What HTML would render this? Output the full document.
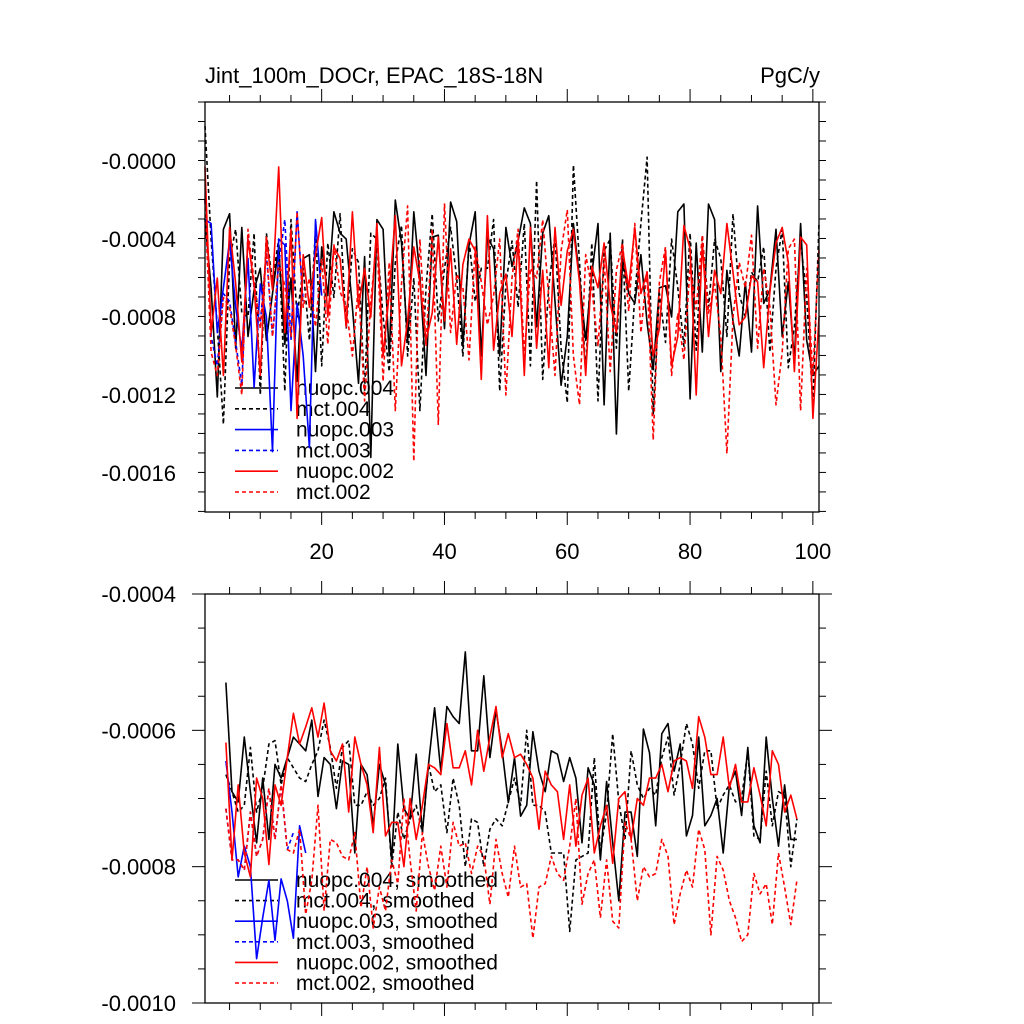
<!DOCTYPE html>
<html><head><meta charset="utf-8"><style>
html,body{margin:0;padding:0;background:#fff;}
svg{display:block;font-family:"Liberation Sans",Arial,sans-serif;}
</style></head><body>
<svg id="chart" width="1024" height="1024" viewBox="0 0 1024 1024" xmlns="http://www.w3.org/2000/svg">
<rect width="1024" height="1024" fill="#fff"/>
<text x="205" y="83" font-size="22">Jint_100m_DOCr, EPAC_18S-18N</text>
<text x="820" y="83" font-size="22" text-anchor="end">PgC/y</text>
<g id="top"></g><g id="bot"></g>
</svg>
<script>
// ---- data (units 1e-4 PgC/y) ----
const xTicks = [20, 40, 60, 80, 100];
const topYTicks = [0, -4, -8, -12, -16];
const topYLabels = ["-0.0000", "-0.0004", "-0.0008", "-0.0012", "-0.0016"];
const botYTicks = [-4, -6, -8, -10];
const botYLabels = ["-0.0004", "-0.0006", "-0.0008", "-0.0010"];

const nuopc004 = [-3.0,-6.5,-12.1,-3.5,-2.7,-9.6,-3.4,-9.0,-6.6,-5.5,-9.2,-6.8,-4.4,-9.4,-6.0,-11.3,-5.0,-4.8,-10.8,-4.4,-6.9,-2.6,-3.7,-4.0,-7.5,-11.4,-4.9,-15.2,-3.0,-3.5,-10.0,-2.0,-4.2,-9.3,-2.6,-5.9,-11.0,-3.9,-3.8,-8.6,-2.1,-3.1,-9.5,-4.3,-2.6,-10.0,-3.9,-4.5,-10.0,-3.4,-5.4,-4.1,-2.4,-3.2,-8.5,-3.7,-2.8,-7.2,-11.5,-9.0,-3.2,-6.0,-9.2,-5.8,-3.2,-12.5,-3.7,-14.0,-5.0,-6.8,-7.3,-4.8,-8.3,-10.7,-6.5,-6.4,-8.0,-2.6,-2.2,-12.2,-4.2,-9.8,-2.2,-3.0,-10.8,-5.6,-8.2,-10.0,-6.2,-9.8,-2.3,-7.3,-6.6,-3.5,-9.0,-6.2,-10.2,-3.2,-9.2,-11.0,-10.5];
const mct004 = [1.8,-4.0,-8.5,-13.5,-5.0,-3.5,-7.8,-8.0,-3.7,-12.0,-3.7,-6.2,-4.0,-11.8,-3.0,-8.0,-5.5,-9.2,-3.5,-10.5,-4.2,-7.0,-2.7,-8.6,-4.5,-5.2,-11.8,-3.7,-4.0,-8.0,-10.8,-5.2,-3.3,-10.0,-6.0,-12.8,-6.5,-2.7,-8.2,-5.5,-3.4,-6.0,-10.0,-4.0,-7.2,-5.5,-5.5,-3.0,-11.8,-6.3,-4.1,-7.5,-3.2,-10.5,-1.0,-11.2,-6.4,-3.8,-9.6,-12.4,-0.2,-5.2,-10.8,-4.2,-12.3,-4.6,-4.0,-9.6,-4.0,-11.8,-6.9,-3.2,0.2,-13.0,-6.8,-9.3,-4.0,-6.5,-9.5,-3.7,-9.7,-3.8,-7.5,-4.0,-5.0,-9.0,-2.7,-6.8,-8.0,-5.7,-6.2,-4.4,-9.8,-5.5,-3.5,-10.6,-8.5,-4.1,-7.0,-12.5,-3.2];
const nuopc003 = [-3.0,-3.2,-8.8,-6.5,-4.1,-7.5,-9.7,-5.0,-11.6,-6.3,-8.0,-14.9,-4.0,-4.3,-12.8,-7.3,-10.0,-14.7,-3.0,-6.9];
const mct003 = [-2.0,-9.0,-10.5,-6.8,-7.2,-9.3,-11.5,-3.8,-6.5,-8.3,-4.7,-9.0,-5.3,-3.0,-9.2,-2.6,-7.2];
const nuopc002 = [-0.3,-8.8,-6.0,-11.0,-3.4,-6.3,-10.3,-4.0,-6.4,-11.0,-3.9,-6.6,-0.3,-8.8,-3.5,-13.2,-4.8,-7.5,-4.8,-2.9,-8.0,-4.4,-5.0,-8.5,-2.6,-7.5,-5.5,-8.0,-3.2,-10.0,-6.8,-2.8,-10.5,-8.2,-4.4,-6.2,-9.2,-7.8,-3.9,-8.2,-4.5,-9.4,-5.3,-4.0,-4.6,-11.2,-2.8,-9.7,-6.8,-5.8,-9.0,-4.0,-11.0,-3.4,-9.6,-5.6,-10.6,-3.4,-7.4,-4.6,-3.5,-6.2,-11.0,-5.4,-6.5,-4.2,-7.3,-8.8,-4.5,-6.5,-3.4,-6.8,-5.7,-10.0,-8.6,-4.6,-10.5,-9.0,-3.3,-4.5,-12.0,-4.2,-9.0,-5.6,-6.8,-3.2,-5.7,-8.4,-8.0,-5.9,-6.2,-10.6,-6.7,-4.2,-3.4,-5.2,-10.8,-3.9,-4.3,-13.2,-8.0];
const mct002 = [-2.0,-9.8,-11.0,-7.0,-7.5,-9.5,-12.0,-3.5,-6.2,-8.6,-4.5,-9.0,-5.2,-6.4,-9.0,-2.6,-7.5,-6.0,-8.5,-5.0,-9.4,-4.3,-6.7,-7.5,-10.0,-6.3,-12.3,-7.2,-4.0,-11.3,-5.2,-12.8,-6.3,-2.3,-15.4,-4.0,-9.5,-3.5,-13.5,-2.2,-8.8,-5.8,-6.5,-10.2,-4.4,-6.2,-8.4,-6.9,-4.0,-12.0,-6.0,-3.5,-10.0,-5.5,-6.0,-3.0,-7.0,-11.0,-4.6,-2.5,-10.0,-12.5,-4.8,-6.5,-9.5,-5.0,-10.8,-5.6,-4.2,-7.7,-3.2,-8.8,-5.6,-14.3,-6.2,-4.4,-11.0,-7.8,-10.2,-5.4,-7.6,-3.8,-7.8,-6.3,-9.0,-15.0,-8.0,-5.2,-6.5,-3.8,-9.6,-5.5,-7.5,-12.5,-9.8,-4.5,-4.0,-12.8,-5.5,-11.0,-4.5];

const smoothStart = 4.4;
const sNuopc004 = [-5.3,-6.9,-7.05,-6.1,-6.9,-7.65,-6.7,-7.6,-6.5,-6.7,-6.4,-6.1,-6.2,-6.3,-5.85,-6.97,-6.4,-6.5,-7.15,-6.45,-6.5,-7.8,-6.5,-6.65,-7.4,-6.5,-6.8,-7.9,-6.2,-7.15,-7.3,-6.35,-7.5,-6.5,-5.67,-6.6,-5.65,-5.8,-5.9,-4.85,-6.3,-6.3,-5.2,-6.4,-5.7,-6.3,-7.06,-6.4,-7.26,-7.1,-6.02,-6.6,-6.9,-6.3,-6.35,-6.75,-6.4,-6.7,-7.65,-6.55,-6.8,-7.9,-6.75,-7.65,-8.5,-7.2,-7.2,-7.85,-5.98,-6.33,-7.4,-6.05,-5.9,-6.6,-6.2,-7.55,-7.25,-6.1,-7.4,-7.25,-7.0,-7.8,-6.8,-6.6,-7.25,-6.25,-7.4,-7.65,-6.1,-7.0,-7.7,-6.8,-7.6,-7.6];
const sMct004 = [-6.65,-6.9,-7.2,-7.1,-6.25,-7.2,-6.85,-6.2,-6.15,-6.8,-6.4,-6.55,-6.7,-6.75,-6.5,-6.3,-5.85,-6.25,-6.85,-6.25,-6.15,-7.1,-7.1,-6.9,-7.1,-7.0,-6.7,-8.0,-7.2,-7.6,-7.3,-7.1,-7.5,-6.5,-6.9,-6.8,-7.5,-6.7,-7.1,-8.0,-7.3,-7.35,-8.0,-7.45,-7.3,-7.4,-7.05,-6.7,-7.1,-6.0,-7.1,-7.1,-7.2,-7.8,-7.8,-7.8,-8.95,-7.9,-7.85,-7.8,-6.4,-7.8,-7.2,-6.05,-7.05,-7.6,-6.3,-6.8,-7.0,-6.85,-6.95,-6.4,-6.1,-6.95,-6.5,-5.9,-6.2,-6.85,-6.3,-6.3,-7.15,-6.95,-6.8,-7.05,-7.0,-6.3,-7.55,-7.6,-6.6,-7.4,-6.9,-6.95,-8.0,-7.3];
const sNuopc003 = [-6.45,-7.2,-8.15,-7.7,-8.0,-9.35,-8.75,-8.2,-9.08,-8.18,-8.5,-9.05,-7.4,-7.8];
const sMct003 = [-7.15,-7.9,-7.9,-8.05,-7.2,-7.85,-7.6,-6.85,-7.6,-6.8,-7.75,-7.5];
const sNuopc002 = [-6.18,-7.9,-6.8,-7.8,-8.15,-6.7,-7.0,-7.97,-6.8,-7.1,-6.4,-5.75,-6.2,-5.95,-5.67,-6.1,-5.6,-6.3,-6.45,-6.2,-7.2,-6.1,-6.5,-6.8,-7.5,-6.25,-7.55,-7.35,-7.35,-8.0,-7.0,-7.6,-7.1,-6.5,-6.55,-6.65,-5.9,-6.55,-6.55,-6.3,-6.8,-6.0,-6.6,-6.1,-5.65,-6.4,-6.05,-6.4,-6.35,-6.5,-6.7,-7.45,-6.6,-6.8,-6.9,-7.6,-6.8,-7.7,-6.95,-6.7,-7.8,-7.4,-7.1,-7.95,-7.0,-6.9,-7.6,-7.0,-7.1,-6.7,-6.7,-6.5,-6.9,-6.45,-6.4,-6.45,-6.85,-5.8,-6.1,-6.65,-6.65,-6.1,-6.85,-6.5,-7.05,-7.05,-6.55,-6.95,-7.4,-6.3,-6.5,-7.2,-6.95,-7.3];
const sMct002 = [-7.15,-7.9,-7.9,-8.05,-7.2,-7.85,-7.6,-6.85,-7.6,-6.8,-7.75,-7.8,-7.45,-8.7,-8.2,-7.1,-8.65,-7.6,-7.65,-7.85,-7.9,-7.5,-8.6,-8.0,-8.9,-8.3,-8.65,-7.9,-8.25,-7.0,-7.9,-8.65,-7.5,-8.0,-8.35,-7.7,-8.3,-7.35,-7.7,-7.65,-8.1,-7.7,-7.85,-8.55,-7.6,-8.1,-8.45,-7.7,-8.3,-8.25,-9.05,-8.3,-8.25,-7.85,-8.1,-8.2,-7.7,-7.0,-8.55,-8.1,-7.9,-8.75,-7.9,-8.8,-8.9,-7.35,-7.6,-8.5,-8.0,-8.15,-8.1,-7.6,-7.85,-8.85,-8.4,-8.05,-8.3,-7.45,-7.75,-9.0,-7.85,-8.05,-8.5,-8.75,-9.1,-9.0,-8.1,-8.4,-8.25,-8.85,-7.8,-8.3,-8.85,-8.2];

const topNames = ["nuopc.004","mct.004","nuopc.003","mct.003","nuopc.002","mct.002"];
const botNames = ["nuopc.004, smoothed","mct.004, smoothed","nuopc.003, smoothed","mct.003, smoothed","nuopc.002, smoothed","mct.002, smoothed"];

// ---- drawing ----
const NS = "http://www.w3.org/2000/svg";
function mk(parent, tag, attrs) {
  const e = document.createElementNS(NS, tag);
  for (const k in attrs) e.setAttribute(k, attrs[k]);
  parent.appendChild(e);
  return e;
}
const X0 = 205, X1 = 819;
const xScale = v => X0 + (v - 1) * (X1 - X0) / 100;
const STYLES = [
  {c:"#000", d:null}, {c:"#000", d:"4 3"}, {c:"#0000ff", d:null},
  {c:"#0000ff", d:"4 3"}, {c:"#ff0000", d:null}, {c:"#ff0000", d:"4 3"}
];

function panel(g, top, bottom, yMax, yMin, minorStep, yTicks, yLabels, showX, series, starts, names, legY0, legDy, keys) {
  const ys = v => top + (yMax - v) * (bottom - top) / (yMax - yMin);
  names.forEach((n, i) => {
    const ly = legY0 + i * legDy;
    const l = mk(g, "line", {x1:235, x2:278, y1:ly, y2:ly, stroke:STYLES[i].c, "stroke-width":1.6});
    if (STYLES[i].d) l.setAttribute("stroke-dasharray", STYLES[i].d);
    
    
    const t = mk(g, "text", {x:296, y:ly + 7, "font-size":21, fill:"#000"});
    t.textContent = n;
    
    
  });
  series.forEach((arr, i) => {
    const pts = arr.map((v, k) => xScale(starts[i] + k).toFixed(1) + "," + ys(v).toFixed(1)).join(" ");
    const p = mk(g, "polyline", {points:pts, fill:"none", stroke:STYLES[i].c, "stroke-width":1.6, "stroke-linejoin":"round"});
    if (STYLES[i].d) p.setAttribute("stroke-dasharray", STYLES[i].d);
    
    
  });
  const fr = mk(g, "rect", {x:X0, y:top, width:X1 - X0, height:bottom - top, fill:"none", stroke:"#000", "stroke-width":1.3});
  
  
  for (let v = 5; v <= 100; v += 5) {
    const x = xScale(v), len = (v % 20 === 0) ? 13 : 7;
    mk(g, "line", {x1:x, x2:x, y1:top, y2:top - len, stroke:"#000", "stroke-width":1});
    mk(g, "line", {x1:x, x2:x, y1:bottom, y2:bottom + len, stroke:"#000", "stroke-width":1});
  }
  if (showX) {
    xTicks.forEach(v => {
      const t = mk(g, "text", {x:xScale(v), y:bottom + 47, "font-size":22, "text-anchor":"middle"});
      t.textContent = v;
      
      
    });
  }
  const nMin = Math.round((yMax - yMin) / minorStep);
  for (let k = 0; k <= nMin; k++) {
    const v = yMax - k * minorStep;
    const isMaj = yTicks.some(t => Math.abs(t - v) < 1e-6);
    const y = ys(v), len = isMaj ? 13 : 7;
    mk(g, "line", {x1:X0, x2:X0 - len, y1:y, y2:y, stroke:"#000", "stroke-width":1});
    mk(g, "line", {x1:X1, x2:X1 + len, y1:y, y2:y, stroke:"#000", "stroke-width":1});
  }
  yTicks.forEach((v, i) => {
    const t = mk(g, "text", {x:176, y:ys(v) + 8, "font-size":22, "text-anchor":"end"});
    t.textContent = yLabels[i];
    
    
  });
}

const keys = ["nuopc-004","mct-004","nuopc-003","mct-003","nuopc-002","mct-002"];
const topG = document.getElementById("top");


panel(topG, 102, 512, 3.03, -18.0, 1, topYTicks, topYLabels, true,
  [nuopc004, mct004, nuopc003, mct003, nuopc002, mct002], [1,1,1,1,1,1],
  topNames, 388, 20.8, keys);

const botG = document.getElementById("bot");


const s = smoothStart;
panel(botG, 594, 1003, -4, -10, 0.5, botYTicks, botYLabels, false,
  [sNuopc004, sMct004, sNuopc003, sMct003, sNuopc002, sMct002], [s,s,s,s,s,s],
  botNames, 880, 20.6, keys.map(k => k + "-smoothed"));
</script>
</body></html>
